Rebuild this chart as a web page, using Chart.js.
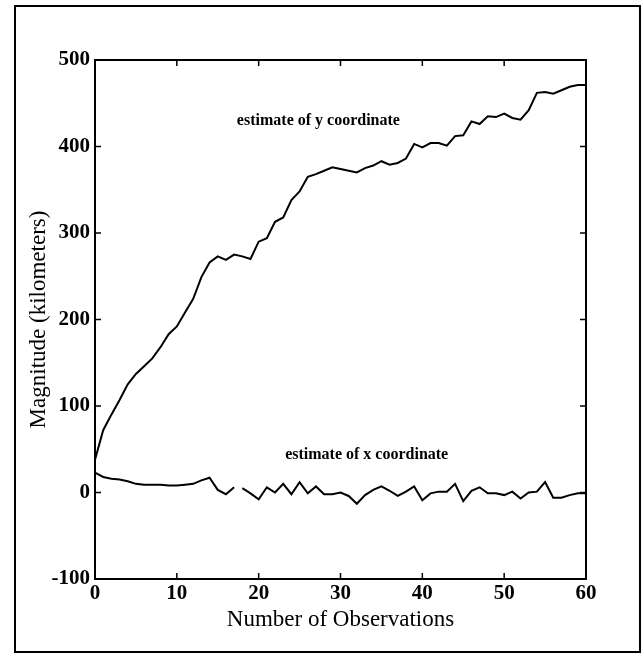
<!DOCTYPE html>
<html>
<head>
<meta charset="utf-8">
<script src="https://cdn.jsdelivr.net/npm/chart.js@4.4.0/dist/chart.umd.min.js"></script>
<style>
  html, body { margin: 0; padding: 0; background: #fff; }
  #wrap { position: relative; width: 644px; height: 656px; }
</style>
</head>
<body>
<div id="wrap"><canvas id="chart" width="644" height="656"></canvas></div>
<script>
// number of observations (x axis)
var observations = [0, 1, 2, 3, 4, 5, 6, 7, 8, 9, 10, 11, 12, 13, 14, 15, 16, 17, 18, 19, 20,
  21, 22, 23, 24, 25, 26, 27, 28, 29, 30, 31, 32, 33, 34, 35, 36, 37, 38, 39, 40,
  41, 42, 43, 44, 45, 46, 47, 48, 49, 50, 51, 52, 53, 54, 55, 56, 57, 58, 59, 60];

// estimate of y coordinate (km)
var yEstimate = [38, 72, 90, 107, 125, 137, 146, 155, 168, 183, 192, 208, 224, 249, 266, 273, 269, 275, 273, 270,
  290, 294, 313, 318, 338, 348, 365, 368, 372, 376, 374, 372, 370, 375, 378, 383, 379, 381, 386, 403,
  399, 404, 404, 401, 412, 413, 429, 426, 435, 434, 438, 433, 431, 442, 462, 463, 461, 465, 469, 471, 471];

// estimate of x coordinate (km)
var xEstimate = [23, 18, 16, 15, 13, 10, 9, 9, 9, 8, 8, 9, 10, 14, 17, 3, -2, 6, 5, -1,
  -8, 6, 0, 10, -2, 12, -1, 7, -2, -2, 0, -4, -13, -3, 3, 7, 2, -4, 1, 7,
  -9, -1, 1, 1, 10, -10, 2, 6, -1, -1, -3, 1, -7, 0, 1, 12, -6, -6, -3, -1, -1];
var xGapAfter = 17; // the x trace is broken between observation 17 and 18

var yTicks = [-100, 0, 100, 200, 300, 400, 500];
var xTicks = [0, 10, 20, 30, 40, 50, 60];

// text labels placed in data coordinates
var notes = [
  { text: "estimate of y coordinate", x: 27.3, y: 430 },
  { text: "estimate of x coordinate", x: 33.2, y: 43 }
];

function toPoints(vals) {
  return observations.map(function(o, i) { return { x: o, y: vals[i] }; });
}

var serif = "'Liberation Serif', 'DejaVu Serif', serif";

var plotFrame = {
  id: 'plotFrame',
  afterDraw: function(chart) {
    var ctx = chart.ctx;
    var a = chart.chartArea;
    var xs = chart.scales.x, ys = chart.scales.y;
    ctx.save();
    ctx.strokeStyle = '#000';
    ctx.lineWidth = 2;
    ctx.strokeRect(a.left, a.top, a.right - a.left, a.bottom - a.top);

    // inward ticks on all four sides
    ctx.lineWidth = 1.5;
    ctx.beginPath();
    xTicks.forEach(function(v) {
      var px = xs.getPixelForValue(v);
      ctx.moveTo(px, a.bottom); ctx.lineTo(px, a.bottom - 6);
      ctx.moveTo(px, a.top); ctx.lineTo(px, a.top + 6);
    });
    yTicks.forEach(function(v) {
      var py = ys.getPixelForValue(v);
      ctx.moveTo(a.left, py); ctx.lineTo(a.left + 6, py);
      ctx.moveTo(a.right, py); ctx.lineTo(a.right - 6, py);
    });
    ctx.stroke();

    // notes on the curves
    ctx.fillStyle = '#000';
    ctx.font = "bold 16px " + serif;
    ctx.textAlign = 'center';
    ctx.textBaseline = 'middle';
    notes.forEach(function(n) {
      ctx.fillText(n.text, xs.getPixelForValue(n.x), ys.getPixelForValue(n.y));
    });

    // page border around the figure
    ctx.lineWidth = 2;
    ctx.strokeRect(15, 6, 625, 646);
    ctx.restore();
  }
};

var ctx = document.getElementById("chart").getContext("2d");

window.trackChart = new Chart(ctx, {
  type: 'line',
  data: {
    datasets: [
      {
        label: "estimate of y coordinate",
        data: toPoints(yEstimate),
        borderColor: "#000",
        borderWidth: 2,
        pointRadius: 0,
        tension: 0
      },
      {
        label: "estimate of x coordinate",
        data: toPoints(xEstimate),
        borderColor: "#000",
        borderWidth: 2,
        pointRadius: 0,
        tension: 0,
        segment: {
          borderColor: function(c) {
            return c.p0DataIndex === xGapAfter ? 'rgba(0,0,0,0)' : '#000';
          }
        }
      }
    ]
  },
  options: {
    responsive: false,
    animation: false,
    layout: { padding: { left: 0, top: 60, right: 58, bottom: 0 } },
    plugins: {
      legend: { display: false },
      tooltip: { enabled: false },
      title: { display: false }
    },
    scales: {
      x: {
        type: 'linear',
        min: 0,
        max: 60,
        afterFit: function(scale) { scale.height = 77; },
        afterBuildTicks: function(scale) {
          scale.ticks = xTicks.map(function(v) { return { value: v }; });
        },
        grid: { display: false, drawTicks: false, tickLength: 0 },
        border: { display: false },
        ticks: {
          color: '#000',
          padding: 2,
          maxRotation: 0,
          font: { family: serif, size: 21, weight: 'bold' }
        },
        title: {
          display: true,
          text: "Number of Observations",
          color: '#000',
          font: { family: serif, size: 23 },
          padding: { top: 0, bottom: 22 }
        }
      },
      y: {
        min: -100,
        max: 500,
        afterFit: function(scale) { scale.width = 95; },
        afterBuildTicks: function(scale) {
          scale.ticks = yTicks.map(function(v) { return { value: v }; });
        },
        grid: { display: false, drawTicks: false, tickLength: 0 },
        border: { display: false },
        ticks: {
          color: '#000',
          padding: 5,
          font: { family: serif, size: 21, weight: 'bold' }
        },
        title: {
          display: true,
          text: "Magnitude (kilometers)",
          color: '#000',
          font: { family: serif, size: 23 },
          padding: { top: 25, bottom: 0 }
        }
      }
    }
  },
  plugins: [plotFrame]
});
</script>
</body>
</html>
